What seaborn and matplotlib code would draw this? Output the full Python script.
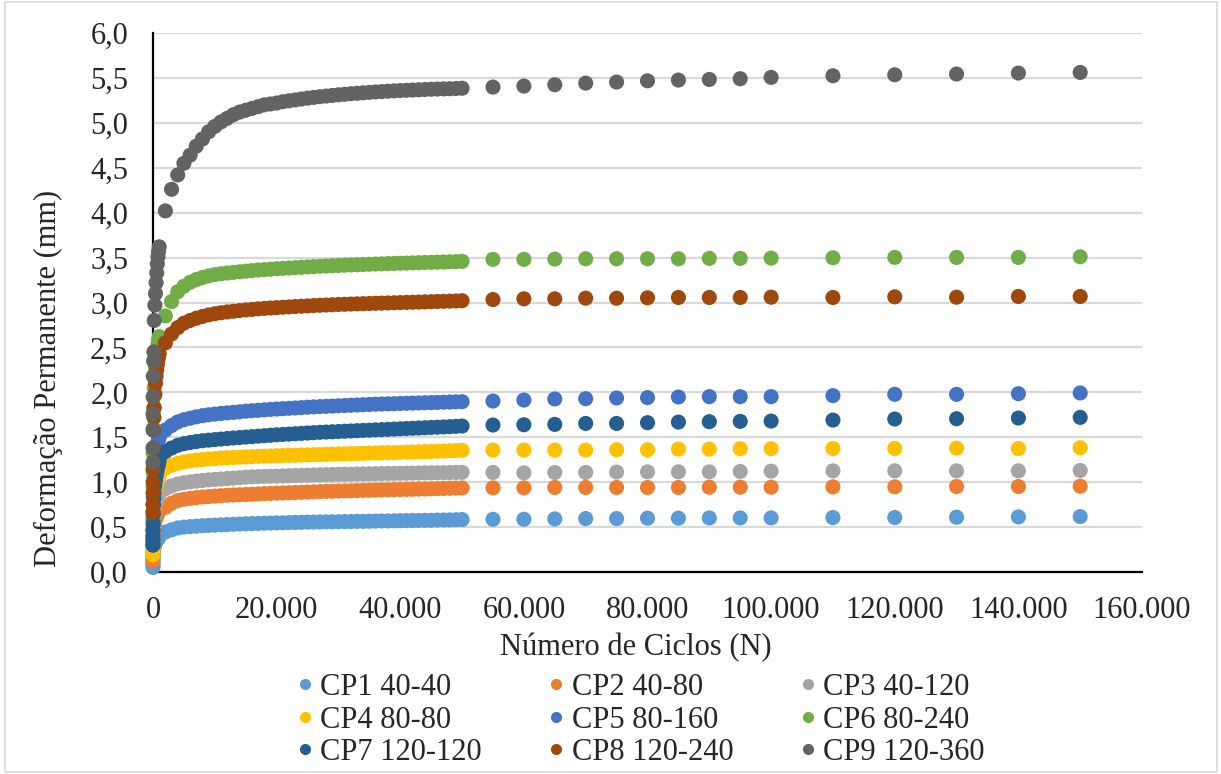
import matplotlib
matplotlib.use("Agg")
import matplotlib.pyplot as plt
from matplotlib.lines import Line2D
from matplotlib.ticker import FuncFormatter, MultipleLocator
import pandas as pd
import seaborn as sns

# Load cycles at which permanent deformation was recorded
N_EARLY = [1, 2, 5, 10, 20, 50, 100, 150, 200, 300, 400, 500, 600, 700, 800, 900, 1000]
N_DENSE = [2000, 3000, 4000, 5000, 6000, 7000, 8000, 9000, 10000, 11000,
           12000, 13000, 14000, 15000, 16000, 17000, 18000, 19000, 20000, 21000,
           22000, 23000, 24000, 25000, 26000, 27000, 28000, 29000, 30000, 31000,
           32000, 33000, 34000, 35000, 36000, 37000, 38000, 39000, 40000, 41000,
           42000, 43000, 44000, 45000, 46000, 47000, 48000, 49000, 50000]
N_SPARSE = [55000, 60000, 65000, 70000, 75000, 80000, 85000, 90000, 95000, 100000,
            110000, 120000, 130000, 140000, 150000]
CYCLES = N_EARLY + N_DENSE + N_SPARSE

# Permanent deformation (mm) per specimen
cp1 = [0.05, 0.07, 0.10, 0.13, 0.17, 0.21, 0.25, 0.27, 0.29, 0.31, 0.33, 0.345, 0.355, 0.365, 0.375, 0.385, 0.395,
       0.445, 0.470, 0.490, 0.500, 0.505, 0.510, 0.515, 0.519, 0.522, 0.525,
       0.528, 0.531, 0.534, 0.537, 0.539, 0.541, 0.543, 0.545, 0.547, 0.548,
       0.550, 0.552, 0.553, 0.555, 0.556, 0.557, 0.558, 0.559, 0.560, 0.561,
       0.562, 0.563, 0.564, 0.565, 0.567, 0.568, 0.569, 0.570, 0.571, 0.572,
       0.573, 0.574, 0.575, 0.576, 0.578, 0.579, 0.580, 0.582, 0.584,
       0.587, 0.587, 0.591, 0.595, 0.595, 0.599, 0.599, 0.602, 0.602, 0.602, 0.606, 0.606, 0.610, 0.613, 0.617]
cp2 = [0.12, 0.16, 0.22, 0.28, 0.34, 0.41, 0.47, 0.50, 0.53, 0.56, 0.59, 0.61, 0.63, 0.645, 0.66, 0.67, 0.68,
       0.720, 0.765, 0.796, 0.810, 0.820, 0.828, 0.835, 0.840, 0.845, 0.850,
       0.854, 0.857, 0.860, 0.863, 0.866, 0.869, 0.872, 0.875, 0.878, 0.880,
       0.882, 0.885, 0.887, 0.890, 0.893, 0.895, 0.897, 0.899, 0.901, 0.903,
       0.904, 0.906, 0.908, 0.910, 0.912, 0.914, 0.915, 0.917, 0.918, 0.920,
       0.921, 0.923, 0.924, 0.926, 0.928, 0.930, 0.932, 0.934, 0.936,
       0.937, 0.937, 0.941, 0.941, 0.941, 0.941, 0.941, 0.944, 0.944, 0.944, 0.948, 0.948, 0.952, 0.952, 0.955]
cp3 = [0.20, 0.25, 0.32, 0.40, 0.47, 0.56, 0.63, 0.67, 0.70, 0.74, 0.77, 0.79, 0.81, 0.83, 0.845, 0.86, 0.87,
       0.926, 0.958, 0.980, 0.993, 1.003, 1.012, 1.019, 1.025, 1.030, 1.035,
       1.040, 1.045, 1.050, 1.056, 1.059, 1.062, 1.064, 1.066, 1.068, 1.070,
       1.072, 1.074, 1.076, 1.078, 1.080, 1.082, 1.084, 1.085, 1.087, 1.088,
       1.089, 1.091, 1.092, 1.093, 1.095, 1.096, 1.097, 1.098, 1.099, 1.100,
       1.101, 1.102, 1.103, 1.104, 1.105, 1.106, 1.107, 1.108, 1.109,
       1.108, 1.104, 1.108, 1.108, 1.112, 1.115, 1.115, 1.115, 1.119, 1.123, 1.126, 1.126, 1.126, 1.126, 1.130]
cp4 = [0.19, 0.24, 0.32, 0.40, 0.49, 0.61, 0.71, 0.77, 0.82, 0.88, 0.93, 0.96, 0.99, 1.01, 1.03, 1.05, 1.07,
       1.156, 1.188, 1.210, 1.225, 1.236, 1.245, 1.252, 1.258, 1.263, 1.268,
       1.272, 1.275, 1.278, 1.281, 1.284, 1.287, 1.290, 1.292, 1.294, 1.296,
       1.298, 1.300, 1.302, 1.304, 1.306, 1.308, 1.310, 1.312, 1.314, 1.316,
       1.318, 1.319, 1.321, 1.323, 1.325, 1.327, 1.329, 1.330, 1.332, 1.334,
       1.336, 1.338, 1.340, 1.342, 1.344, 1.347, 1.350, 1.352, 1.355,
       1.357, 1.357, 1.357, 1.357, 1.361, 1.361, 1.368, 1.368, 1.372, 1.372, 1.375, 1.375, 1.379, 1.375, 1.383]
cp5 = [0.30, 0.37, 0.47, 0.57, 0.68, 0.84, 0.98, 1.06, 1.13, 1.22, 1.29, 1.34, 1.38, 1.42, 1.45, 1.48, 1.50,
       1.580, 1.630, 1.670, 1.695, 1.712, 1.727, 1.740, 1.750, 1.758, 1.765,
       1.771, 1.777, 1.783, 1.790, 1.795, 1.800, 1.805, 1.810, 1.814, 1.818,
       1.822, 1.826, 1.830, 1.834, 1.838, 1.841, 1.844, 1.847, 1.850, 1.853,
       1.856, 1.859, 1.862, 1.865, 1.868, 1.870, 1.872, 1.874, 1.876, 1.878,
       1.880, 1.882, 1.884, 1.886, 1.888, 1.890, 1.892, 1.894, 1.896,
       1.903, 1.914, 1.926, 1.929, 1.937, 1.941, 1.948, 1.952, 1.952, 1.952, 1.963, 1.978, 1.978, 1.985, 1.993]
cp6 = [0.60, 0.75, 0.95, 1.12, 1.32, 1.60, 1.82, 1.95, 2.05, 2.18, 2.28, 2.36, 2.43, 2.49, 2.54, 2.58, 2.62,
       2.850, 3.010, 3.120, 3.180, 3.225, 3.255, 3.278, 3.296, 3.310, 3.320,
       3.328, 3.335, 3.342, 3.349, 3.355, 3.361, 3.366, 3.371, 3.376, 3.380,
       3.384, 3.388, 3.392, 3.396, 3.400, 3.403, 3.406, 3.409, 3.412, 3.415,
       3.418, 3.420, 3.423, 3.425, 3.428, 3.430, 3.433, 3.435, 3.437, 3.439,
       3.441, 3.443, 3.445, 3.447, 3.449, 3.451, 3.453, 3.455, 3.458,
       3.480, 3.480, 3.483, 3.487, 3.487, 3.487, 3.487, 3.491, 3.491, 3.494, 3.498, 3.502, 3.502, 3.502, 3.509]
cp7 = [0.30, 0.34, 0.40, 0.46, 0.53, 0.64, 0.75, 0.82, 0.88, 0.96, 1.02, 1.07, 1.11, 1.15, 1.18, 1.21, 1.24,
       1.340, 1.380, 1.410, 1.428, 1.441, 1.452, 1.461, 1.468, 1.474, 1.480,
       1.486, 1.492, 1.497, 1.502, 1.507, 1.512, 1.517, 1.522, 1.527, 1.531,
       1.535, 1.539, 1.543, 1.547, 1.551, 1.555, 1.558, 1.561, 1.564, 1.567,
       1.570, 1.573, 1.576, 1.579, 1.582, 1.585, 1.588, 1.591, 1.594, 1.597,
       1.600, 1.603, 1.606, 1.609, 1.612, 1.615, 1.618, 1.621, 1.625,
       1.636, 1.639, 1.643, 1.654, 1.654, 1.662, 1.669, 1.673, 1.677, 1.680, 1.691, 1.703, 1.706, 1.714, 1.721]
cp8 = [0.66, 0.75, 0.88, 1.00, 1.15, 1.38, 1.58, 1.72, 1.83, 1.98, 2.10, 2.18, 2.25, 2.31, 2.36, 2.40, 2.43,
       2.550, 2.650, 2.720, 2.770, 2.800, 2.825, 2.845, 2.862, 2.875, 2.886,
       2.895, 2.903, 2.910, 2.917, 2.923, 2.929, 2.934, 2.939, 2.943, 2.947,
       2.951, 2.955, 2.959, 2.962, 2.966, 2.969, 2.972, 2.975, 2.978, 2.980,
       2.983, 2.985, 2.987, 2.989, 2.991, 2.993, 2.995, 2.997, 2.999, 3.001,
       3.003, 3.005, 3.007, 3.009, 3.011, 3.013, 3.015, 3.017, 3.020,
       3.033, 3.041, 3.041, 3.048, 3.048, 3.052, 3.056, 3.056, 3.056, 3.059, 3.056, 3.063, 3.059, 3.067, 3.067]
cp9 = [1.22, 1.38, 1.58, 1.76, 1.95, 2.18, 2.35, 2.45, 2.80, 2.97, 3.10, 3.22, 3.33, 3.43, 3.51, 3.57, 3.62,
       4.020, 4.260, 4.420, 4.550, 4.640, 4.740, 4.820, 4.900, 4.960, 5.010,
       5.050, 5.090, 5.120, 5.140, 5.160, 5.180, 5.200, 5.210, 5.220, 5.235,
       5.245, 5.255, 5.265, 5.275, 5.283, 5.291, 5.298, 5.305, 5.312, 5.318,
       5.324, 5.329, 5.334, 5.339, 5.344, 5.348, 5.352, 5.356, 5.359, 5.362,
       5.365, 5.368, 5.371, 5.374, 5.376, 5.378, 5.380, 5.382, 5.385,
       5.398, 5.409, 5.424, 5.442, 5.454, 5.468, 5.476, 5.483, 5.491, 5.506, 5.524, 5.535, 5.543, 5.554, 5.561]

SERIES = ["CP1 40-40", "CP2 40-80", "CP3 40-120", "CP4 80-80", "CP5 80-160",
          "CP6 80-240", "CP7 120-120", "CP8 120-240", "CP9 120-360"]
VALUES = [cp1, cp2, cp3, cp4, cp5, cp6, cp7, cp8, cp9]
COLORS = ["#5B9BD5", "#ED7D31", "#A5A5A5", "#FFC000", "#4472C4",
          "#70AD47", "#255E91", "#9E480E", "#636363"]

for vals in VALUES:
    assert len(vals) == len(CYCLES), len(vals)

df = pd.concat(
    [pd.DataFrame({"N": CYCLES, "def": v, "serie": name}) for name, v in zip(SERIES, VALUES)],
    ignore_index=True,
)

sns.set_style("white")
plt.rcParams["font.family"] = ["Liberation Serif", "DejaVu Serif"]
FS = 22

fig = plt.figure(figsize=(12.21, 7.74), dpi=100)
ax = fig.add_axes([153 / 1221, 1 - 572 / 774, (1142 - 153) / 1221, (572 - 33) / 774])

sns.scatterplot(data=df, x="N", y="def", hue="serie", hue_order=SERIES,
                palette=COLORS, s=118, linewidth=0, alpha=1,
                legend=False, ax=ax, clip_on=False, zorder=3)

ax.set_xlim(0, 160000)
ax.set_ylim(0, 6.0)
ax.yaxis.set_major_locator(MultipleLocator(0.5))
ax.xaxis.set_major_locator(MultipleLocator(20000))
ax.yaxis.set_major_formatter(FuncFormatter(lambda v, p: f"{v:.1f}".replace(".", ",")))
ax.xaxis.set_major_formatter(FuncFormatter(lambda v, p: f"{int(round(v)):,}".replace(",", ".")))

ax.set_axisbelow(True)
ax.yaxis.grid(True, color="#D9D9D9", linewidth=1.6)
ax.xaxis.grid(False)

for side in ("top", "right"):
    ax.spines[side].set_visible(False)
for side in ("left", "bottom"):
    ax.spines[side].set_color("black")
    ax.spines[side].set_linewidth(1.6)

ax.tick_params(axis="x", direction="in", length=9, width=1.6, color="black",
               labelsize=FS, pad=17)
ax.tick_params(axis="y", length=0, labelsize=FS, pad=18)

ax.set_xlabel("")
ax.set_ylabel("")
fig.text(636 / 1221, 1 - 648 / 774, "Número de Ciclos (N)", fontsize=FS,
         ha="center", va="center")
fig.text(48 / 1221, 1 - 378 / 774, "Deformação Permanente (mm)", fontsize=FS,
         ha="center", va="center", rotation=90)

# Legend filled row by row (3 per row)
order = [0, 3, 6, 1, 4, 7, 2, 5, 8]
handles = [Line2D([], [], marker="o", linestyle="", markersize=8,
                  markerfacecolor=COLORS[i], markeredgewidth=0) for i in order]
labels = [SERIES[i] for i in order]
fig.legend(handles, labels, ncol=3, loc="center", bbox_to_anchor=(641 / 1221, 1 - 720 / 774),
           frameon=False, fontsize=FS, handlelength=0.5, handletextpad=0.25,
           columnspacing=2.2, labelspacing=0.11, borderpad=0)

# Chart-area border
fig.add_artist(plt.Rectangle((0.004, 0.002), 0.993, 0.996, transform=fig.transFigure,
                             fill=False, edgecolor="#D9D9D9", linewidth=1.2))

fig.savefig("out.png", dpi=100)
